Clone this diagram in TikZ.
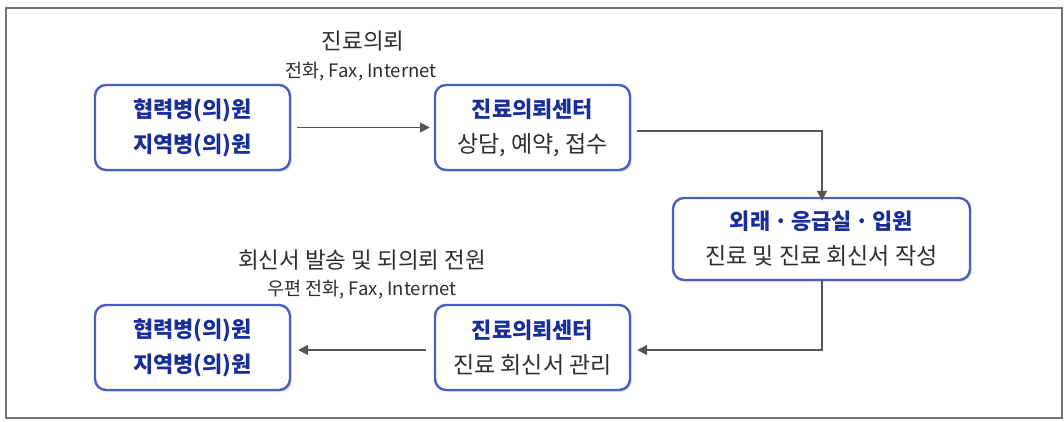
\documentclass[tikz,border=0pt]{standalone}
\usepackage{fontspec}
\setmainfont{Noto Sans CJK KR}
\usetikzlibrary{arrows.meta,shadows}
\definecolor{bord}{HTML}{4D5FBE}
\definecolor{ttl}{HTML}{1A2E9A}
\definecolor{txt}{HTML}{2E2E2E}
\definecolor{arr}{HTML}{555555}
\newcommand{\ttlline}[1]{{\color{ttl}\fontsize{22}{35}\selectfont\bfseries #1}}
\newcommand{\bodyline}[1]{{\color{txt}\fontsize{23}{35}\selectfont #1}}
\tikzset{
  box/.style={draw=bord, line width=2.4pt, rounded corners=11pt, fill=white,
    minimum width=195pt, minimum height=85pt, align=center, inner sep=0pt,
    font=\fontsize{22}{35}\selectfont,
    drop shadow={shadow xshift=2pt, shadow yshift=-2pt, fill=black!22}},
  conn/.style={draw=arr, line width=1.7pt, -{Triangle[length=10pt,width=10pt]}},
  lbl/.style={font=\fontsize{22.5}{26}\selectfont, text=txt},
  sublbl/.style={font=\fontsize{18.5}{22}\selectfont, text=txt}
}
\begin{document}
\begin{tikzpicture}[x=1pt,y=-1pt]
\useasboundingbox (0,0) rectangle (1064,421);
\draw[draw=black!55, line width=1.5pt] (6,8) rectangle (1062,418);
\node[box] (a1) at (192.5,127.5) {\ttlline{협력병(의)원}\\\ttlline{지역병(의)원}};
\node[box] (b1) at (532.5,127.5) {\ttlline{진료의뢰센터}\\\bodyline{상담, 예약, 접수}};
\node[box, minimum width=297pt, minimum height=82pt] (c) at (821.5,239) {\ttlline{외래\,·\,응급실\,·\,입원}\\\bodyline{진료 및 진료 회신서 작성}};
\node[box] (b2) at (532.5,347.5) {\ttlline{진료의뢰센터}\\\bodyline{진료 회신서 관리}};
\node[box] (a2) at (192.5,347.5) {\ttlline{협력병(의)원}\\\ttlline{지역병(의)원}};
\node[lbl] (l1) at (363,41) {진료의뢰};
\node[sublbl] (l1b) at (361,72) {전화, Fax, Internet};
\node[lbl] (l2) at (362,260) {회신서 발송 및 되의뢰 전원};
\node[sublbl] (l2b) at (362,290) {우편 전화, Fax, Internet};
\draw[conn] ([xshift=6pt]a1.east) -- ([xshift=-4pt]b1.west);
\coordinate (k1) at (822,131);
\draw[conn] ([xshift=6pt]b1.east |- k1) -- (k1) -- ([yshift=-4pt]c.north -| k1);
\coordinate (k2) at (822,350);
\draw[conn] ([yshift=2pt]c.south -| k2) -- (k2) -- ([xshift=6pt]b2.east |- k2);
\draw[conn] ([xshift=-8pt]b2.west |- k2) -- ([xshift=7pt]a2.east |- k2);
\end{tikzpicture}
\end{document}
